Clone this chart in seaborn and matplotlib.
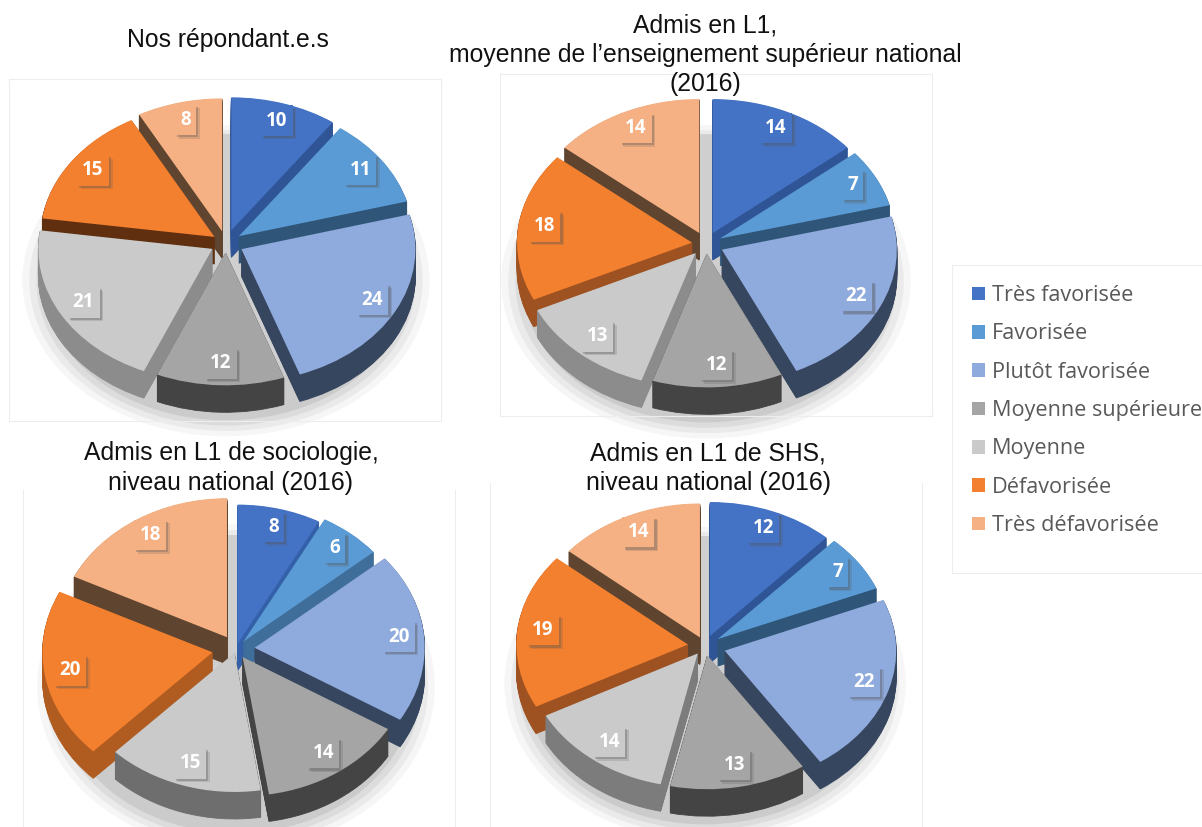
import matplotlib
matplotlib.use('Agg')
import matplotlib.pyplot as plt
import matplotlib.patheffects as pe
from matplotlib.patches import Patch, Rectangle
import numpy as np
import seaborn as sns

categories = ['Très favorisée', 'Favorisée', 'Plutôt favorisée', 'Moyenne supérieure',
              'Moyenne', 'Défavorisée', 'Très défavorisée']

repondants = [10, 11, 24, 12, 21, 15, 8]
admis_l1 = [14, 7, 22, 12, 13, 18, 14]
admis_socio = [8, 6, 20, 14, 15, 20, 18]
admis_shs = [12, 7, 22, 13, 14, 19, 14]

titles = ['Nos répondant.e.s',
          'Admis en L1,\nmoyenne de l’enseignement supérieur national\n(2016)',
          'Admis en L1 de sociologie,\nniveau national (2016)',
          'Admis en L1 de SHS,\nniveau national (2016)']

W, H = 1202, 827
top_colors = sns.color_palette(['#4472C4', '#5B9BD5', '#8FAADC', '#A5A5A5', '#CACACA', '#F3802F', '#F5B183'])

# one dict per panel, everything in pixels of the final picture
panels = [
    dict(values=repondants, title=titles[0], title_xy=(228, 40), frame=(9, 79, 441, 421),
         center=(226, 243), rx=174, ry=133, depth=27, top_line=True,
         explode=[.10, .09, .10, .07, .09, .08, .09],
         side=['#2F5597', '#2F5679', '#36465E', '#444444', '#8C8C8C', '#5F2F10', '#5F4530']),
    dict(values=admis_l1, title=titles[1], title_xy=(705, 55), frame=(500, 74, 932, 416),
         center=(706, 244), rx=175, ry=134, depth=27, top_line=True,
         explode=[.09, .09, .10, .07, .09, .08, .09],
         side=['#2F5597', '#2F5679', '#36465E', '#444444', '#8C8C8C', '#9E5222', '#5F4530']),
    dict(values=admis_socio, title=titles[2], title_xy=(231, 468), frame=(23, 490, 455, 826),
         center=(236, 649), rx=170, ry=139, depth=27, top_line=False,
         explode=[.04, .07, .11, .07, .03, .14, .10],
         side=['#3360A8', '#3F6E9A', '#36465E', '#444444', '#6E6E6E', '#B05C20', '#5F4530']),
    dict(values=admis_shs, title=titles[3], title_xy=(708, 468), frame=(490, 483, 922, 826),
         center=(705, 646), rx=171.5, ry=134, depth=27, top_line=False,
         explode=[.08, .09, .12, .07, .07, .10, .07],
         side=['#2F5597', '#2F5679', '#36465E', '#444444', '#7C7C7C', '#9E5222', '#5F4530']),
]


def draw_panel(fig, p):
    x0, y0, x1, y1 = p['frame']
    ax = fig.add_axes([x0 / W, 1 - y1 / H, (x1 - x0) / W, (y1 - y0) / H])
    cx, cy = p['center']
    rx, ry = p['rx'], p['ry']
    step = 1 / ry  # one pixel of height

    # soft shadow on the ground
    for r, a in [(1.17, .07), (1.13, .10), (1.09, .14), (1.05, .20)]:
        w, _ = ax.pie([1], radius=r, center=(0, -p['depth'] * step - .08), colors=['#8a8a8a'],
                      wedgeprops=dict(linewidth=0, alpha=a))
        w[0].set_zorder(1)
    # inner wall seen through the gaps
    w, _ = ax.pie([1], radius=.9, center=(0, -.08), colors=['#CFCFCF'], wedgeprops=dict(linewidth=0))
    w[0].set_zorder(2)

    values = p['values']
    total = sum(values)
    # back slices first, so front slices hide what is behind them
    mids = 90 - (np.cumsum(values) - np.array(values) / 2) / total * 360
    order = np.argsort(-np.sin(np.deg2rad(mids)))
    rank = {int(i): n for n, i in enumerate(order)}

    # extruded sides, stacked from bottom to top
    for k in range(p['depth'], 0, -1):
        wedges, _ = ax.pie(values, explode=p['explode'], colors=p['side'], startangle=90,
                           counterclock=False, center=(0, -k * step),
                           wedgeprops=dict(linewidth=.6))
        for i, w in enumerate(wedges):
            w.set_edgecolor(p['side'][i])
            w.set_zorder(10 + rank[i] * 100 + (p['depth'] - k))

    wedges, texts = ax.pie(values, explode=p['explode'], colors=top_colors, startangle=90,
                           counterclock=False, labels=[str(v) for v in values], labeldistance=.85,
                           wedgeprops=dict(linewidth=0))
    for i, w in enumerate(wedges):
        w.set_zorder(10 + rank[i] * 100 + 90)
    for i, t in enumerate(texts):
        t.set(ha='center', va='center', color='white', fontsize=13.5, fontweight='bold',
              family=['Open Sans', 'DejaVu Sans'], zorder=2000)
        lx, ly = t.get_position()
        t.set_position((lx, ly + 2 * step))
        t.set_bbox(dict(boxstyle='square,pad=0.28', facecolor=top_colors[i], edgecolor='none'))
        t.get_bbox_patch().set_path_effects([
            pe.SimplePatchShadow(offset=(2.5, -2.5), shadow_rgbFace='#555555', alpha=.18),
            pe.SimplePatchShadow(offset=(1.5, -1.5), shadow_rgbFace='#555555', alpha=.3),
            pe.Normal()])

    ax.set_aspect('auto')
    ax.set_xlim((x0 - cx) / rx, (x1 - cx) / rx)
    ax.set_ylim((cy - y1) / ry, (cy - y0) / ry)
    ax.set_xticks([])
    ax.set_yticks([])
    ax.set_frame_on(True)
    for s in ax.spines.values():
        s.set_edgecolor('#EDEDED')
        s.set_linewidth(.8)
    ax.spines['top'].set_visible(p['top_line'])
    ax.spines['bottom'].set_visible(p['top_line'])
    ax.patch.set_alpha(0)

    fig.text(p['title_xy'][0] / W, 1 - p['title_xy'][1] / H, p['title'], ha='center', va='center',
             fontsize=17.8, family='Liberation Sans', color='#111111', linespacing=1.27, zorder=5000)


def main():
    sns.set_theme(style='white')
    fig = plt.figure(figsize=(W / 100, H / 100), dpi=100, facecolor='white')

    for p in panels:
        draw_panel(fig, p)

    # legend box is taller than its rows in the original, so it gets its own frame
    fig.add_artist(Rectangle((952 / W, 1 - 573 / H), 260 / W, 308 / H, transform=fig.transFigure,
                             facecolor='white', edgecolor='#EDEDED', linewidth=.8))
    handles = [Patch(facecolor=c, edgecolor='none', label=l) for c, l in zip(top_colors, categories)]
    fig.legend(handles=handles, loc='upper left', bbox_to_anchor=(952 / W, 1 - 265 / H),
               bbox_transform=fig.transFigure, borderaxespad=0, frameon=False,
               labelcolor='#595959', prop=dict(family='Open Sans', size=15.6), handlelength=.6,
               handleheight=.6, handletextpad=.32, labelspacing=.80, borderpad=.93)

    fig.savefig('out.png', dpi=100)


if __name__ == '__main__':
    main()
